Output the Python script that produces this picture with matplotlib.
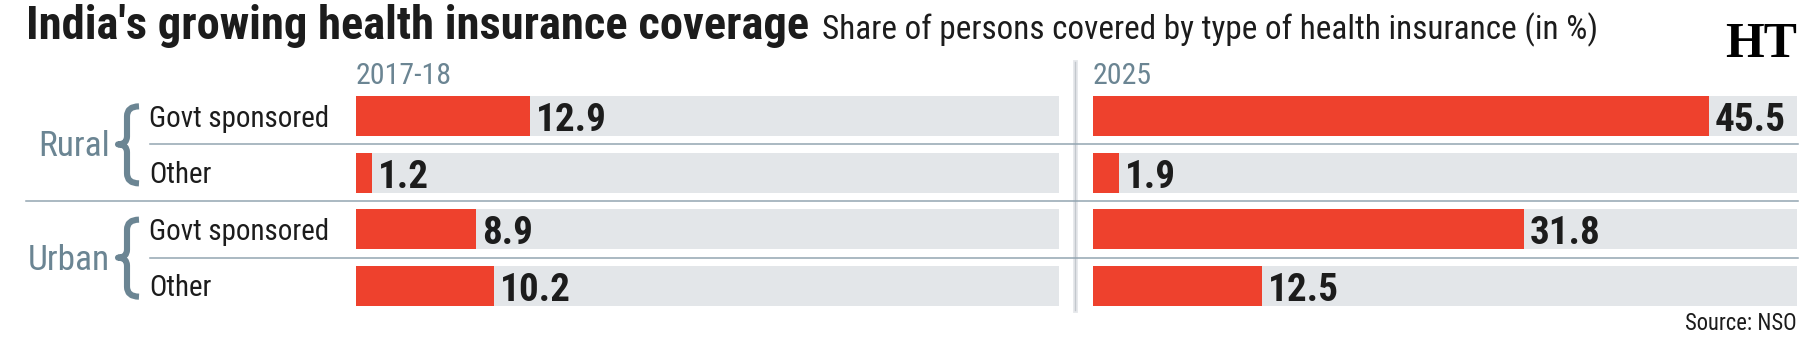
import os
import matplotlib
matplotlib.use("Agg")
import matplotlib.pyplot as plt
from matplotlib.path import Path
from matplotlib.patches import PathPatch
from matplotlib.lines import Line2D
from matplotlib import transforms as mtrans
from matplotlib import font_manager as fm

# ---------------- data ----------------
groups = ["Rural", "Urban"]
categories = ["Govt sponsored", "Other", "Govt sponsored", "Other"]
years = ["2017-18", "2025"]
values_2017 = [12.9, 1.2, 8.9, 10.2]
values_2025 = [45.5, 1.9, 31.8, 12.5]
title = "India's growing health insurance coverage"
subtitle = "Share of persons covered by type of health insurance (in %)"
source = "Source: NSO"
XMAX = 52

# ---------------- fonts ----------------
_files = {}
for p in list(fm.findSystemFonts()) + [f.fname for f in fm.fontManager.ttflist]:
    _files.setdefault(os.path.splitext(os.path.basename(p))[0].lower(), p)

def pick(cands, fallback_family, weight="normal"):
    for c in cands:
        if c.lower() in _files:
            return dict(fontproperties=fm.FontProperties(fname=_files[c.lower()]))
    return dict(family=fallback_family, fontweight=weight)

SANS = ["Liberation Sans", "DejaVu Sans"]
F_REG = pick(["NotoSans-SemiCondensed", "NotoSans-Condensed", "RobotoCondensed-Regular",
              "OpenSans-CondensedLight", "LiberationSansNarrow-Regular", "DejaVuSansCondensed"], SANS)
F_HEAVY = pick(["NotoSans-CondensedExtraBold", "NotoSans-CondensedBold",
                "RobotoCondensed-ExtraBold", "RobotoCondensed-Black", "RobotoCondensed-Bold",
                "OpenSans-CondensedBold", "LiberationSansNarrow-Bold", "DejaVuSansCondensed-Bold"],
               SANS, "bold")
F_SERIF = dict(family=["Liberation Serif", "DejaVu Serif"], fontweight="bold")

# ---------------- style ----------------
RED = "#ee412d"
GREY_BG = "#e3e6e9"
SEP = "#93a5b1"
BLUEGREY = "#6b8593"
BLACK = "#1c1c1c"

W, H = 1819, 352
fig = plt.figure(figsize=(W / 100, H / 100), dpi=100)
fig.patch.set_facecolor("white")

PX = mtrans.Affine2D().scale(1 / W, -1 / H).translate(0, 1) + fig.transFigure

top_px, bot_px = 87.7, 314.3
def add_axes(x0, x1):
    return fig.add_axes([x0 / W, 1 - bot_px / H, (x1 - x0) / W, (bot_px - top_px) / H])

ax_l = add_axes(356, 1059)
ax_r = add_axes(1093, 1797)
rows = list(range(len(categories)))
bh = 0.706

for ax, vals in [(ax_l, values_2017), (ax_r, values_2025)]:
    ax.barh(rows, [XMAX] * len(rows), height=bh, color=GREY_BG, zorder=1)
    ax.barh(rows, vals, height=bh, color=RED, zorder=2)
    ax.set_xlim(0, XMAX)
    ax.set_ylim(len(rows) - 0.5, -0.5)
    ax.axis("off")

# value labels
val_texts = []
for ax, vals in [(ax_l, values_2017), (ax_r, values_2025)]:
    for i, v in zip(rows, vals):
        t = ax.annotate(f"{v}", xy=(v, i), xytext=(6, -15), textcoords="offset pixels",
                        ha="left", va="baseline", color=BLACK, zorder=5, **F_HEAVY)
        val_texts.append(t)

blend = mtrans.blended_transform_factory(PX, ax_l.transData)

# separators
for yb, x0 in [(0.5, 150), (1.5, 26), (2.5, 150)]:
    fig.add_artist(Line2D([x0, 1798], [yb, yb], transform=blend, color=SEP, lw=1.1, zorder=6))

# vertical divider
fig.add_artist(Line2D([1075, 1075], [62, 310], transform=PX, color="#e6e8eb", lw=3.5, zorder=3))
fig.add_artist(Line2D([1075, 1075], [62, 310], transform=PX, color="#c3c8cd", lw=1.0, zorder=3))

# category labels
cat_texts = []
for i, c in zip(rows, categories):
    tr = mtrans.offset_copy(blend, fig=fig, x=0, y=-10.5, units="dots")
    t = fig.text(149, i, c, transform=tr, ha="left", va="baseline", color=BLACK, **F_REG)
    cat_texts.append(t)

# group labels and braces
grp_texts = []
for g_i, g in enumerate(groups):
    mid = g_i * 2 + 0.5
    tr = mtrans.offset_copy(blend, fig=fig, x=0, y=-12, units="dots")
    t = fig.text(110, mid, g, transform=tr, ha="right", va="baseline", color=BLUEGREY, **F_REG)
    grp_texts.append(t)
    c = H - ax_l.transData.transform((0, mid))[1]
    top, bot = c - 38, c + 39
    verts = [(139, top), (127, top), (127, top + 10),
             (127, c - 8),
             (127, c), (118, c),
             (127, c), (127, c + 8),
             (127, bot - 10),
             (127, bot), (139, bot)]
    codes = [Path.MOVETO, Path.CURVE3, Path.CURVE3,
             Path.LINETO,
             Path.CURVE3, Path.CURVE3,
             Path.CURVE3, Path.CURVE3,
             Path.LINETO,
             Path.CURVE3, Path.CURVE3]
    fig.add_artist(PathPatch(Path(verts, codes), transform=PX, fill=False,
                             edgecolor=BLUEGREY, lw=4.4, capstyle="butt", joinstyle="round"))

# year labels
yr_texts = []
for ax, y in [(ax_l, years[0]), (ax_r, years[1])]:
    x0 = ax.get_position().x0 * W
    t = fig.text(x0, 84, y, transform=PX, ha="left", va="baseline", color=BLUEGREY, **F_REG)
    yr_texts.append(t)

# title / subtitle / logo / source
t_title = fig.text(26, 39, title, transform=PX, ha="left", va="baseline", color=BLACK, **F_HEAVY)
t_sub = fig.text(822, 39, subtitle, transform=PX, ha="left", va="baseline", color=BLACK, **F_REG)
t_logo = fig.text(1725, 57, "HT", transform=PX, ha="left", va="baseline", color="black", **F_SERIF)
t_src = fig.text(1797, 330, source, transform=PX, ha="right", va="baseline", color=BLACK, **F_REG)

# fit font sizes to reference widths
for t in [t_title, t_sub, t_logo, t_src] + val_texts + cat_texts + grp_texts + yr_texts:
    t.set_fontsize(20)
r = fig.canvas.get_renderer()
def fit(group, ref, target):
    for _ in range(2):
        w = ref.get_window_extent(r).width
        s = ref.get_fontsize() * target / w
        for t in group:
            t.set_fontsize(s)

fit([t_title], t_title, 782)
fit([t_sub], t_sub, 776)
fit([t_logo], t_logo, 72)
fit([t_src], t_src, 112)
fit(val_texts, val_texts[4], 71)
fit(cat_texts, cat_texts[0], 180)
fit(grp_texts, grp_texts[1], 82)
fit(yr_texts, yr_texts[0], 96)

fig.savefig("out.png", dpi=100, facecolor="white")
